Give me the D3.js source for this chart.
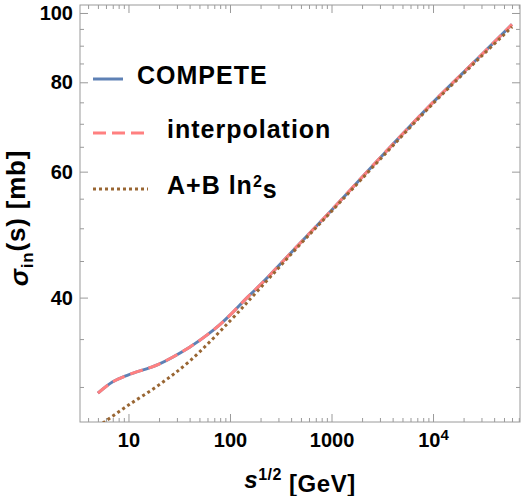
<!DOCTYPE html>
<html>
<head>
<meta charset="utf-8">
<script src="https://cdn.jsdelivr.net/npm/d3@7"></script>
<style>
  body { margin: 0; background: #fff; }
  text { font-family: "Liberation Sans", Arial, sans-serif; font-weight: bold; }
</style>
</head>
<body>
<svg id="chart"></svg>
<script>
// chart size and plot frame
var width = 525;
var height = 496;
var plotLeft = 80, plotRight = 520, plotTop = 5, plotBottom = 422;

// values: sqrt(s) in GeV, sigma_in in mb
var competeX = [5, 7, 10, 20, 40, 60, 80, 100, 150, 200, 500, 1000, 3000, 10000, 30000, 60000];
var competeY = [29.4, 30.5, 31.2, 32.3, 34.1, 35.5, 36.7, 37.8, 40.1, 41.7, 47.8, 53.0, 62.7, 75.0, 87.4, 96.4];

var interpX = [5, 7, 10, 20, 40, 60, 80, 100, 150, 200, 500, 1000, 3000, 10000, 30000, 60000];
var interpY = [29.4, 30.5, 31.2, 32.3, 34.1, 35.5, 36.7, 37.8, 40.1, 41.7, 47.8, 53.0, 62.7, 75.0, 87.4, 96.4];

var fitX = [5, 6, 10, 20, 40, 100, 200, 500, 1000, 3000, 10000, 30000, 60000];
var fitY = [26.4, 26.9, 28.3, 30.2, 32.6, 37.1, 41.3, 47.6, 52.8, 62.4, 74.7, 87.0, 95.6];

// tick values
var xMajor = [10, 100, 1000, 10000];
var xLabels = ["10", "100", "1000", "10^4"];
var yMajor = [40, 60, 80, 100];
var yMinor = [30, 35, 45, 50, 55, 65, 70, 75, 85, 90, 95];

var legendNames = ["COMPETE", "interpolation", "A+B ln^2s"];

var x = d3.scaleLog().domain([3.33, 71900]).range([plotLeft, plotRight]);
var y = d3.scaleLog().domain([26.8, 102.6]).range([plotBottom, plotTop]);

// minor x ticks: 2..9 in each decade inside the domain
var xMinor = [];
for (var d = 1; d <= 10000; d *= 10) {
    for (var k = 1; k <= 9; k++) {
        var v = k * d;
        if (v >= 3.33 && v <= 71900 && xMajor.indexOf(v) < 0) xMinor.push(v);
    }
}

var svg = d3.select("#chart").attr("width", width).attr("height", height);

svg.append("defs").append("clipPath").attr("id", "clip")
    .append("rect").attr("x", plotLeft).attr("y", plotTop)
    .attr("width", plotRight - plotLeft).attr("height", plotBottom - plotTop);

var tickColor = "#9a9a9a";

function styleAxis(g) {
    g.select(".domain").remove();
    g.selectAll(".tick line").attr("stroke", tickColor);
    g.selectAll(".tick text").attr("fill", "#000").style("font-size", "20px");
}

// bottom axis
svg.append("g").attr("transform", "translate(0," + plotBottom + ")")
    .call(d3.axisBottom(x).tickValues(xMajor).tickSize(-8).tickPadding(11)
        .tickFormat(function (d, i) { return xLabels[i]; }))
    .call(styleAxis);
svg.append("g").attr("transform", "translate(0," + plotBottom + ")")
    .call(d3.axisBottom(x).tickValues(xMinor).tickSize(-4).tickFormat(""))
    .call(styleAxis);

// superscript for 10^4
svg.selectAll("g.tick text").filter(function () { return this.textContent === "10^4"; })
    .each(function () {
        var t = d3.select(this).text("");
        t.append("tspan").text("10");
        t.append("tspan").attr("dy", "-0.45em").style("font-size", "15px").text("4");
    });

// top axis (ticks only)
svg.append("g").attr("transform", "translate(0," + plotTop + ")")
    .call(d3.axisTop(x).tickValues(xMajor).tickSize(-8).tickFormat(""))
    .call(styleAxis);
svg.append("g").attr("transform", "translate(0," + plotTop + ")")
    .call(d3.axisTop(x).tickValues(xMinor).tickSize(-4).tickFormat(""))
    .call(styleAxis);

// left axis
svg.append("g").attr("transform", "translate(" + plotLeft + ",0)")
    .call(d3.axisLeft(y).tickValues(yMajor).tickSize(-8).tickPadding(7).tickFormat(d3.format("d")))
    .call(styleAxis);
svg.append("g").attr("transform", "translate(" + plotLeft + ",0)")
    .call(d3.axisLeft(y).tickValues(yMinor).tickSize(-4).tickFormat(""))
    .call(styleAxis);

// right axis (ticks only)
svg.append("g").attr("transform", "translate(" + plotRight + ",0)")
    .call(d3.axisRight(y).tickValues(yMajor).tickSize(-8).tickFormat(""))
    .call(styleAxis);
svg.append("g").attr("transform", "translate(" + plotRight + ",0)")
    .call(d3.axisRight(y).tickValues(yMinor).tickSize(-4).tickFormat(""))
    .call(styleAxis);

// frame
svg.append("rect").attr("x", plotLeft).attr("y", plotTop)
    .attr("width", plotRight - plotLeft).attr("height", plotBottom - plotTop)
    .attr("fill", "none").attr("stroke", tickColor).attr("stroke-width", 1);

var line = d3.line()
    .x(function (d) { return x(d[0]); })
    .y(function (d) { return y(d[1]); })
    .curve(d3.curveCatmullRom.alpha(0.5));

function zip(a, b) { return a.map(function (v, i) { return [v, b[i]]; }); }

var styles = [
    { color: "#5e81b5", dash: null },
    { color: "#ff8080", dash: "13,6" },
    { color: "#996633", dash: "3,3" }
];
var series = [zip(competeX, competeY), zip(interpX, interpY), zip(fitX, fitY)];

var plot = svg.append("g").attr("clip-path", "url(#clip)");
series.forEach(function (s, i) {
    plot.append("path")
        .datum(s)
        .attr("d", line)
        .attr("fill", "none")
        .attr("stroke", styles[i].color)
        .attr("stroke-width", 3)
        .attr("stroke-dasharray", styles[i].dash);
});

// legend
var legend = [
    { y: 79, x1: 93, x2: 123, tx: 137 },
    { y: 133, x1: 93, x2: 146, tx: 167 },
    { y: 189, x1: 93, x2: 148, tx: 167 }
];
legend.forEach(function (l, i) {
    svg.append("line")
        .attr("x1", l.x1).attr("x2", l.x2).attr("y1", l.y).attr("y2", l.y)
        .attr("stroke", styles[i].color).attr("stroke-width", 3)
        .attr("stroke-dasharray", styles[i].dash);
    var t = svg.append("text").attr("x", l.tx).attr("y", l.y + 5)
        .style("font-size", "25px").style("letter-spacing", "1px");
    if (i === 2) {
        t.append("tspan").text("A+B ln");
        t.append("tspan").attr("dy", "-0.45em").style("font-size", "16px").text("2");
        t.append("tspan").attr("dy", "0.45em").text("s");
    } else {
        t.text(legendNames[i]);
    }
});

// x axis title
var xt = svg.append("text").attr("x", (plotLeft + plotRight) / 2).attr("y", 488)
    .attr("text-anchor", "middle").style("font-size", "24px").style("letter-spacing", "0.5px");
xt.append("tspan").style("font-style", "italic").text("s");
xt.append("tspan").attr("dy", "-0.5em").style("font-size", "16px").text("1/2");
xt.append("tspan").attr("dy", "0.5em").text(" [GeV]");

// y axis title
var yt = svg.append("text")
    .attr("transform", "translate(28,218) rotate(-90)")
    .attr("text-anchor", "middle").style("font-size", "26px").style("letter-spacing", "0.8px");
yt.append("tspan").style("font-style", "italic").text("σ");
yt.append("tspan").attr("dy", "0.3em").style("font-size", "17px").text("in");
yt.append("tspan").attr("dy", "-0.3em").text("(s) [mb]");
</script>
</body>
</html>
